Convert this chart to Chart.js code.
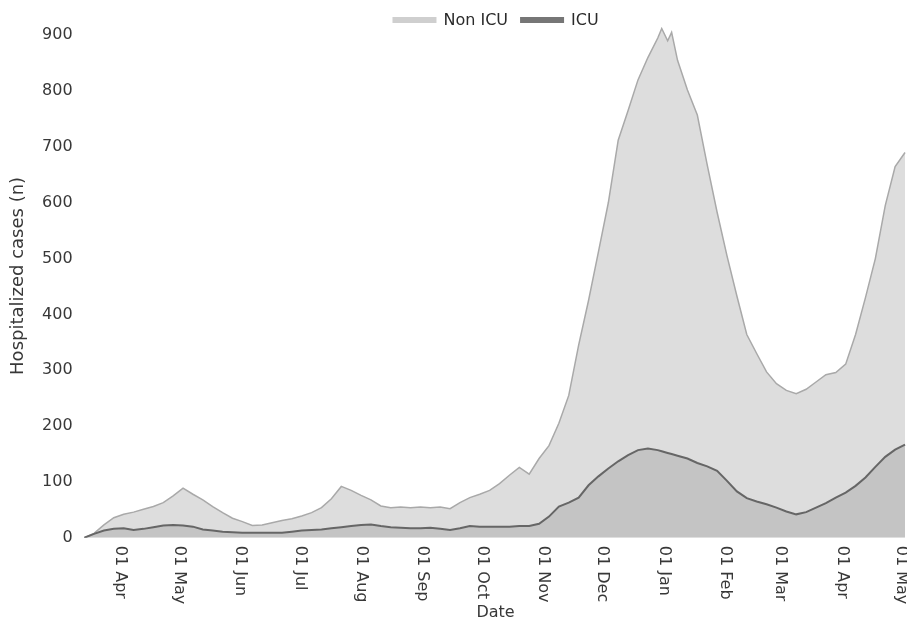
<!DOCTYPE html>
<html>
<head>
<meta charset="utf-8">
<script src="https://cdn.jsdelivr.net/npm/chart.js@4"></script>
<style>
  html, body { margin: 0; padding: 0; background: #fff; }
  #wrap { width: 907px; height: 622px; }
</style>
</head>
<body>
<div id="wrap"><canvas id="HospChart"></canvas></div>
<script>
var dates = [
  '2020-03-14','2020-03-19','2020-03-24','2020-03-29','2020-04-03','2020-04-08','2020-04-13','2020-04-18',
  '2020-04-23','2020-04-28','2020-05-03','2020-05-08','2020-05-13','2020-05-18','2020-05-23','2020-05-28',
  '2020-06-02','2020-06-07','2020-06-12','2020-06-17','2020-06-22','2020-06-27','2020-07-02','2020-07-07',
  '2020-07-12','2020-07-17','2020-07-22','2020-07-27','2020-08-01','2020-08-06','2020-08-11','2020-08-16',
  '2020-08-21','2020-08-26','2020-08-31','2020-09-05','2020-09-10','2020-09-15','2020-09-20','2020-09-25',
  '2020-09-30','2020-10-05','2020-10-10','2020-10-15','2020-10-20','2020-10-25','2020-10-30','2020-11-04',
  '2020-11-09','2020-11-14','2020-11-19','2020-11-24','2020-11-29','2020-12-04','2020-12-09','2020-12-14',
  '2020-12-19','2020-12-24','2020-12-29','2020-12-31','2021-01-03','2021-01-05','2021-01-08','2021-01-13',
  '2021-01-18','2021-01-23','2021-01-28','2021-02-02','2021-02-07','2021-02-12','2021-02-17','2021-02-22',
  '2021-02-27','2021-03-04','2021-03-09','2021-03-14','2021-03-19','2021-03-24','2021-03-29','2021-04-03',
  '2021-04-08','2021-04-13','2021-04-18','2021-04-23','2021-04-28','2021-05-03'
];
var nonIcu = [
  0, 8, 23, 36, 42, 46, 51, 56,
  63, 75, 89, 78, 68, 56, 45, 35,
  29, 22, 23, 27, 31, 34, 39, 45,
  54, 70, 92, 85, 76, 68, 57, 54,
  55, 54, 55, 54, 55, 52, 63, 72,
  78, 85, 97, 112, 126, 114, 142, 165,
  205, 255, 345, 425, 512, 600, 712, 765,
  820, 860, 895, 912, 890, 905, 855, 802,
  757, 668, 583, 505, 433, 364, 330, 297,
  276, 264, 258, 266, 279, 292, 296, 311,
  364, 430, 500, 595, 665, 690
];
var icu = [
  0, 7, 13, 16, 17, 14, 16, 19,
  22, 23, 22, 20, 15, 13, 11, 10,
  9, 9, 9, 9, 9, 11, 13, 14,
  15, 17, 19, 21, 23, 24, 21, 19,
  18, 17, 17, 18, 16, 14, 17, 21,
  20, 20, 20, 20, 21, 21, 25, 38,
  56, 63, 72, 94, 110, 124, 137, 148,
  157, 160, 157, 155, 152, 150, 147, 142,
  134, 128, 120, 102, 83, 71, 65, 60,
  54, 47, 42, 46, 54, 62, 72, 81,
  93, 108, 127, 145, 158, 167
];
var monthTicks = ['2020-04-01','2020-05-01','2020-06-01','2020-07-01','2020-08-01','2020-09-01','2020-10-01',
  '2020-11-01','2020-12-01','2021-01-01','2021-02-01','2021-03-01','2021-04-01','2021-05-01'];
var monthLabels = ['01 Apr','01 May','01 Jun','01 Jul','01 Aug','01 Sep','01 Oct',
  '01 Nov','01 Dec','01 Jan','01 Feb','01 Mar','01 Apr','01 May'];
var yTicks = [0, 100, 200, 300, 400, 500, 600, 700, 800, 900];

var origin = Date.parse('2020-03-14');
function dayOf(s) { return Math.round((Date.parse(s) - origin) / 86400000); }
function toPoints(vals) {
  return vals.map(function (v, i) { return { x: dayOf(dates[i]), y: v }; });
}

var FONT = 'DejaVu Sans';
var TEXT = '#383838';
Chart.defaults.font.family = FONT;
Chart.defaults.color = TEXT;

// month labels read top to bottom, so they are drawn here from the x scale
var monthLabelPlugin = {
  id: 'monthLabels',
  afterDraw: function (chart) {
    var ctx = chart.ctx;
    var xs = chart.scales.x;
    var top = chart.chartArea.bottom + 8;
    ctx.save();
    ctx.font = '16px ' + FONT;
    ctx.fillStyle = TEXT;
    ctx.textAlign = 'left';
    ctx.textBaseline = 'middle';
    monthTicks.forEach(function (d, i) {
      var px = xs.getPixelForValue(dayOf(d));
      ctx.save();
      ctx.translate(px, top);
      ctx.rotate(Math.PI / 2);
      ctx.fillText(monthLabels[i], 0, 0);
      ctx.restore();
    });
    ctx.restore();
  }
};

// legend centred over the plot area, overlapping its top edge
var legendPlugin = {
  id: 'topLegend',
  afterDraw: function (chart) {
    var ctx = chart.ctx;
    var area = chart.chartArea;
    var swatch = ['#cfcfcf', '#767676'];
    var boxW = 44, gapText = 7, gapItem = 12, y = 20;
    ctx.save();
    ctx.font = '16px ' + FONT;
    ctx.textBaseline = 'middle';
    ctx.textAlign = 'left';
    var widths = chart.data.datasets.map(function (ds) {
      return boxW + gapText + ctx.measureText(ds.label).width;
    });
    var total = widths.reduce(function (a, b) { return a + b; }, 0) + gapItem * (widths.length - 1);
    var x = (area.left + area.right) / 2 - total / 2;
    chart.data.datasets.forEach(function (ds, i) {
      ctx.fillStyle = swatch[i];
      ctx.fillRect(x, y - 3, boxW, 6);
      ctx.fillStyle = '#2a2a2a';
      ctx.fillText(ds.label, x + boxW + gapText, y + 1);
      x += widths[i] + gapItem;
    });
    ctx.restore();
  }
};

var ctxHosp = document.getElementById('HospChart');
var hospChart = new Chart(ctxHosp, {
  type: 'line',
  data: {
    datasets: [
      {
        label: 'Non ICU',
        data: toPoints(nonIcu),
        borderColor: '#a9a9a9',
        backgroundColor: '#dddddd',
        borderWidth: 1.5,
        fill: 'origin',
        pointRadius: 0,
        tension: 0,
        order: 2
      },
      {
        label: 'ICU',
        data: toPoints(icu),
        borderColor: '#666666',
        backgroundColor: '#c4c4c4',
        borderWidth: 2,
        fill: 'origin',
        pointRadius: 0,
        tension: 0,
        order: 1
      }
    ]
  },
  options: {
    responsive: true,
    maintainAspectRatio: false,
    animation: false,
    layout: { padding: { left: 8, right: 0, top: 14, bottom: 0 } },
    plugins: {
      legend: { display: false },
      tooltip: { enabled: false }
    },
    scales: {
      x: {
        type: 'linear',
        min: 0,
        max: 416,
        grid: { display: false },
        border: { display: false },
        ticks: { display: false },
        title: {
          display: true,
          text: 'Date',
          font: { size: 16, family: FONT },
          color: TEXT,
          padding: { top: 57, bottom: 0 }
        }
      },
      y: {
        min: 0,
        max: 938,
        afterBuildTicks: function (scale) {
          scale.ticks = yTicks.map(function (v) { return { value: v }; });
        },
        grid: { display: false },
        border: { display: false },
        ticks: {
          font: { size: 16, family: FONT },
          color: TEXT,
          padding: 3.5
        },
        title: {
          display: true,
          text: 'Hospitalized cases (n)',
          font: { size: 18, family: FONT },
          color: TEXT,
          padding: { top: 0, bottom: 9 }
        }
      }
    }
  },
  plugins: [monthLabelPlugin, legendPlugin]
});
</script>
</body>
</html>
